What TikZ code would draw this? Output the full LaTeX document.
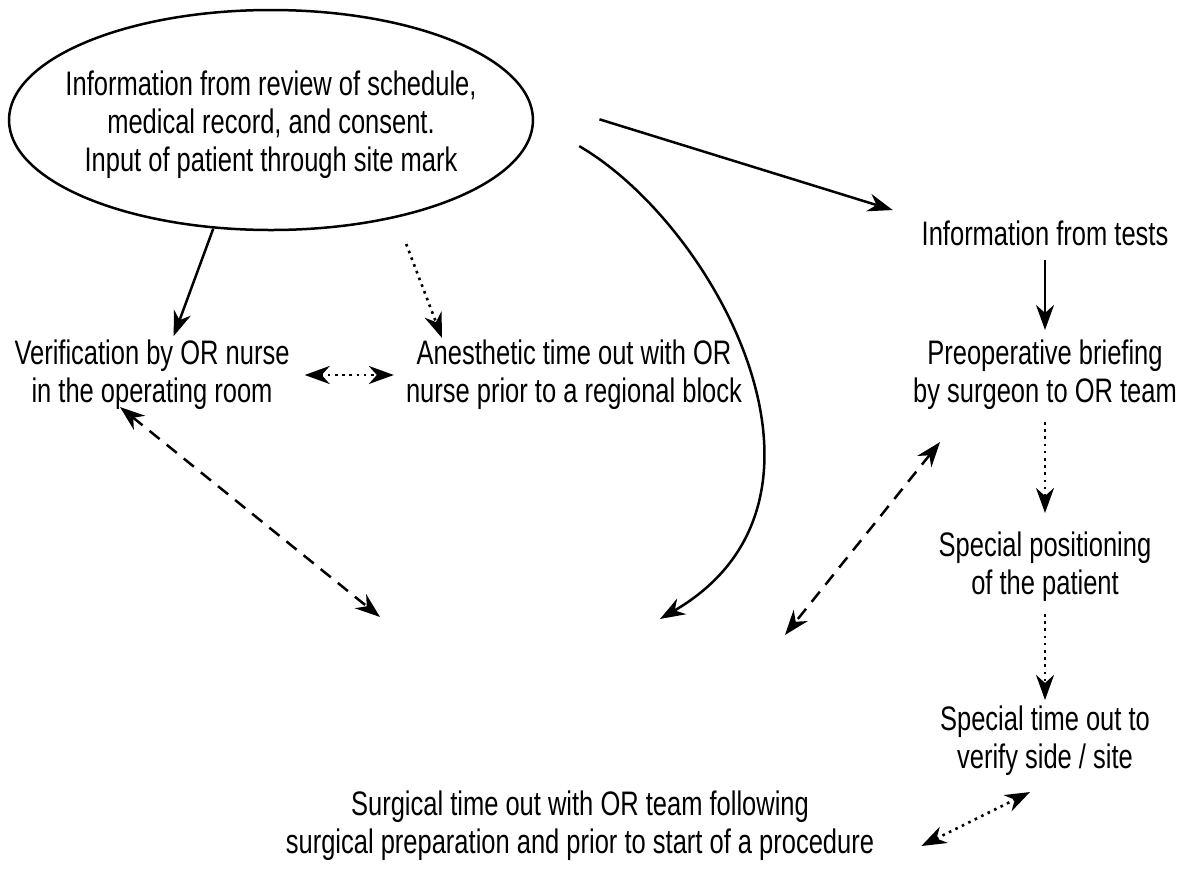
\documentclass[tikz,border=0pt]{standalone}
\usepackage{fontspec}
\setmainfont{Liberation Sans}[FakeStretch=0.75]
\usetikzlibrary{arrows.meta,shapes.geometric}
\tikzset{
  txt/.style={align=center, inner sep=2pt, font=\fontsize{34}{38}\selectfont},
  flow/.style={line width=2.5pt, ->},
  dotflow/.style={line width=2.6pt, dash pattern=on 2.6pt off 4.6pt, ->},
  dashflow/.style={line width=2.5pt, dash pattern=on 13pt off 9pt, ->}
}
\begin{document}
\begin{tikzpicture}[x=1pt, y=-1pt, >={Stealth[length=25pt,width=18pt,inset=8pt]}]
    \useasboundingbox (0,0) rectangle (1190,871);
    % ===== Ellipse: source information =====
    \node[ellipse, draw, line width=2.5pt, minimum width=524pt, minimum height=220pt] (info) at (271,120) {};
    \node[txt] (infotext) at ([yshift=-5pt]info.center) {Information from review of schedule,\\medical record, and consent.\\Input of patient through site mark};

    % ===== Text nodes =====
    \node[txt] (nurse) at (152,375) {Verification by OR nurse\\in the operating room};
    \node[txt] (anes)  at (574,375) {Anesthetic time out with OR\\nurse prior to a regional block};
    \node[txt] (tests) at (1045,233) {Information from tests};
    \node[txt] (brief) at (1045,375) {Preoperative briefing\\by surgeon to OR team};
    \node[txt] (pos)   at (1045,567) {Special positioning\\of the patient};
    \node[txt] (side)  at (1045,741) {Special time out to\\verify side / site};
    \node[txt] (surg)  at (580,826) {Surgical time out with OR team following\\surgical preparation and prior to start of a procedure};

    % ===== Arrows from the ellipse =====
    \draw[flow, shorten >=2pt] (info.242) -- ([xshift=21pt]nurse.north);
    \draw[dotflow, shorten <=28pt] (info.-38) -- ([xshift=-132pt]anes.north);
    \draw[flow, shorten <=74pt, shorten >=28pt] (info.5) -- (tests.north west);
    \draw[flow, shorten <=52pt] (info.east) .. controls (715,225) and (865,500) .. ([shift={(80,-170)}]surg.north);

    % ===== Right column =====
    \draw[flow, shorten <=12pt, shorten >=8pt] (tests.south) -- (brief.north);
    \draw[dotflow, shorten <=10pt, shorten >=17pt] (brief.south) -- (pos.north);
    \draw[dotflow, shorten <=10pt, shorten >=4pt] (pos.south) -- (side.north);

    % ===== Two-way links =====
    \draw[dotflow, <->, shorten <=13pt, shorten >=10pt] (nurse.east) -- (anes.west);
    \draw[dashflow, <->] ([shift={(-32,-5)}]nurse.south) -- ([shift={(-200,-172)}]surg.north);
    \draw[dashflow, <->] ([shift={(-105,30)}]brief.south) -- ([shift={(205,-154)}]surg.north);
    \draw[dotflow, <->] ([shift={(-15,14)}]side.south) -- ([shift={(45,20)}]surg.east);
\end{tikzpicture}
\end{document}
